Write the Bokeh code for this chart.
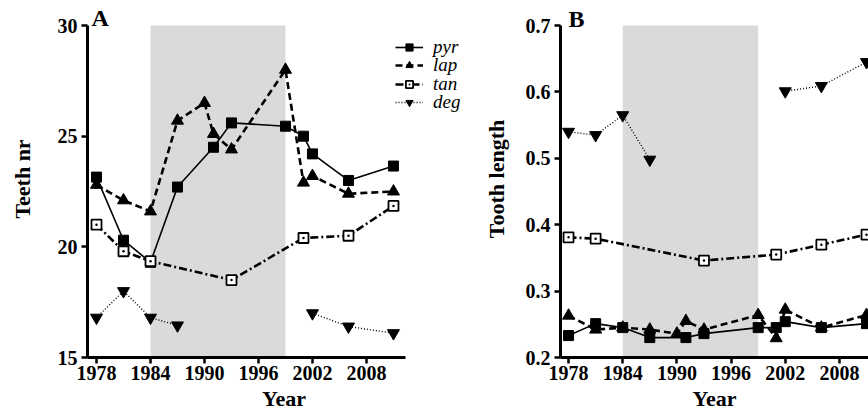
import numpy as np
from bokeh.plotting import figure
from bokeh.models import BoxAnnotation, FixedTicker, Legend, LegendItem, Label, Range1d
from bokeh.layouts import row
from bokeh.embed import file_html
from bokeh.resources import INLINE

# ---------------- data ----------------
year_ticks = [1978, 1984, 1990, 1996, 2002, 2008]
shade_start, shade_end = 1984, 1999

# Panel A: teeth number
pyr_years = [1978, 1981, 1984, 1987, 1991, 1993, 1999, 2001, 2002, 2006, 2011]
pyr_a = [23.15, 20.3, 19.3, 22.7, 24.5, 25.6, 25.45, 25.0, 24.2, 23.0, 23.65]
lap_years = [1978, 1981, 1984, 1987, 1990, 1991, 1993, 1999, 2001, 2002, 2006, 2011]
lap_a = [22.8, 22.1, 21.6, 25.7, 26.5, 25.1, 24.4, 28.0, 22.9, 23.2, 22.4, 22.5]
tan_years_a = [1978, 1981, 1984, 1993, 2001, 2006, 2011]
tan_a = [21.0, 19.8, 19.35, 18.5, 20.4, 20.5, 21.85]
deg_years_1 = [1978, 1981, 1984, 1987]
deg_years_2 = [2002, 2006, 2011]
deg_a_1 = [16.8, 18.0, 16.8, 16.45]
deg_a_2 = [17.0, 16.4, 16.1]

# Panel B: tooth length
pyr_b = [0.233, 0.251, 0.245, 0.230, 0.230, 0.236, 0.245, 0.245, 0.254, 0.245, 0.251]
lap_b = [0.263, 0.242, 0.245, 0.242, 0.236, 0.255, 0.242, 0.264, 0.229, 0.272, 0.245, 0.264]
tan_years_b = [1978, 1981, 1993, 2001, 2006, 2011]
tan_b = [0.381, 0.379, 0.346, 0.355, 0.370, 0.385]
deg_b_1 = [0.540, 0.535, 0.565, 0.498]
deg_b_2 = [0.601, 0.609, 0.645]

series_names = ["pyr", "lap", "tan", "deg"]
panel_letters = ["A", "B"]
y_titles = ["Teeth nr", "Tooth length"]
x_title = "Year"

SERIF = "Liberation Serif"
SHADE = "#d9dadc"


def style(p, yticks, xb, yb, ylab_standoff):
    p.outline_line_color = None
    p.xgrid.visible = False
    p.ygrid.visible = False
    p.background_fill_color = "white"
    p.border_fill_color = "white"
    for ax in (p.xaxis[0], p.yaxis[0]):
        ax.axis_line_width = 3
        ax.axis_line_color = "black"
        ax.major_tick_line_width = 2.5
        ax.major_tick_line_color = "black"
        ax.major_tick_out = 6
        ax.major_tick_in = 0
        ax.minor_tick_line_color = None
        ax.major_label_text_font = SERIF
        ax.major_label_text_font_style = "bold"
        ax.major_label_text_font_size = "20px"
        ax.major_label_text_color = "black"
        ax.axis_label_text_font = SERIF
        ax.axis_label_text_font_style = "bold"
        ax.axis_label_text_font_size = "22px"
        ax.axis_label_text_color = "black"
    p.xaxis[0].ticker = FixedTicker(ticks=year_ticks)
    p.yaxis[0].ticker = FixedTicker(ticks=yticks)
    p.xaxis[0].bounds = xb
    p.yaxis[0].bounds = yb
    p.xaxis[0].major_label_standoff = 2
    p.yaxis[0].major_label_standoff = 4
    p.xaxis[0].axis_label_standoff = 3
    p.yaxis[0].axis_label_standoff = ylab_standoff


def draw(p, pyr, lap, tyears, tan, d1, d2):
    r_pyr_l = p.line(pyr_years, pyr, line_color="black", line_width=1.6)
    r_pyr_m = p.scatter(pyr_years, pyr, marker="square", size=10, fill_color="black", line_color="black")
    r_lap_l = p.line(lap_years, lap, line_color="black", line_width=2.6, line_dash="7 4")
    r_lap_m = p.scatter(lap_years, lap, marker="triangle", size=12, fill_color="black", line_color="black")
    r_tan_l = p.line(tyears, tan, line_color="black", line_width=2.6, line_dash="8 3 2 3")
    r_tan_m = p.scatter(tyears, tan, marker="square_dot", size=10, fill_color="white",
                        line_color="black", line_width=1.8)
    r_deg_l1 = p.line(deg_years_1, d1, line_color="black", line_width=1.4, line_dash="1 2")
    r_deg_l2 = p.line(deg_years_2, d2, line_color="black", line_width=1.4, line_dash="1 2")
    r_deg_m = p.scatter(deg_years_1 + deg_years_2, d1 + d2, marker="inverted_triangle", size=12,
                        fill_color="black", line_color="black")
    return [[r_pyr_l, r_pyr_m], [r_lap_l, r_lap_m], [r_tan_l, r_tan_m], [r_deg_l1, r_deg_m]]


# ---------------- panel A ----------------
pa = figure(frame_width=393, frame_height=357,
            x_range=Range1d(1977.0, 2020.67), y_range=Range1d(15, 31.13),
            min_border_left=87, min_border_right=0, min_border_top=0, min_border_bottom=57,
            output_backend="svg", toolbar_location=None)
style(pa, [15, 20, 25, 30], (1977.0, 2012.3), (15, 30), 20)
pa.xaxis[0].axis_label = x_title
pa.yaxis[0].axis_label = y_titles[0]
pa.add_layout(BoxAnnotation(left=shade_start, right=shade_end, bottom=15, top=30,
                            fill_color=SHADE, fill_alpha=1, line_color=None, level="underlay"))
rends = draw(pa, pyr_a, lap_a, tan_years_a, tan_a, deg_a_1, deg_a_2)

# one single-entry legend per series so that rows can sit closer than the text height
for i, (name, r) in enumerate(zip(series_names, rends)):
    row_center = 45 + 18.3 * i
    leg = Legend(items=[LegendItem(label=name, renderers=r)],
                 location=(308, 344 - row_center), orientation="vertical",
                 padding=0, margin=0, spacing=0, glyph_width=28, glyph_height=18,
                 label_height=18, label_standoff=10,
                 label_text_font=SERIF, label_text_font_style="italic", label_text_font_size="19px",
                 label_text_color="black", label_text_baseline="middle",
                 border_line_alpha=0, background_fill_alpha=0)
    pa.add_layout(leg, "center")

pa.add_layout(Label(x=1977.45, y=30.33, text=panel_letters[0], text_font=SERIF, text_font_style="bold",
                    text_font_size="24px", text_baseline="alphabetic", text_color="black"))

# ---------------- panel B ----------------
pb = figure(frame_width=308, frame_height=357,
            x_range=Range1d(1977.11, 2011.22), y_range=Range1d(0.2, 0.7377),
            min_border_left=80, min_border_right=0, min_border_top=0, min_border_bottom=57,
            output_backend="svg", toolbar_location=None)
style(pb, [0.2, 0.3, 0.4, 0.5, 0.6, 0.7], (1977.11, 2011.22), (0.2, 0.7), 14)
pb.xaxis[0].axis_label = x_title
pb.yaxis[0].axis_label = y_titles[1]
pb.add_layout(BoxAnnotation(left=shade_start, right=shade_end, bottom=0.2, top=0.7,
                            fill_color=SHADE, fill_alpha=1, line_color=None, level="underlay"))
draw(pb, pyr_b, lap_b, tan_years_b, tan_b, deg_b_1, deg_b_2)
pb.add_layout(Label(x=1978.0, y=0.7105, text=panel_letters[1], text_font=SERIF, text_font_style="bold",
                    text_font_size="24px", text_baseline="alphabetic", text_color="black"))

layout = row(pa, pb)
open("out.html", "w").write(file_html(layout, INLINE))
